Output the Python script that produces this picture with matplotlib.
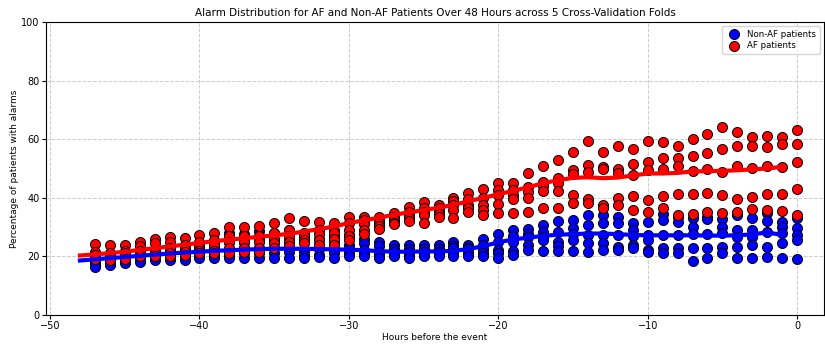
import numpy as np
import matplotlib
matplotlib.use("Agg")
import matplotlib.pyplot as plt

hours = list(range(-47, 1))

# 5 folds per hour (values in %)
af_values = [
    [24.2, 21.5, 20.5, 19.5, 19.0],  # -47
    [24.0, 21.0, 20.0, 19.5, 18.8],
    [24.0, 22.0, 21.0, 20.0, 19.0],
    [25.0, 23.5, 22.0, 21.0, 20.0],
    [26.0, 24.5, 22.0, 21.0, 20.0],
    [26.5, 25.0, 23.0, 21.0, 20.0],  # -42
    [26.4, 24.0, 22.5, 21.5, 20.5],
    [27.3, 25.0, 23.0, 22.0, 21.0],
    [28.0, 25.5, 24.0, 22.0, 21.0],
    [30.0, 27.0, 25.0, 23.0, 21.0],
    [30.0, 27.0, 25.0, 23.0, 21.5],  # -37
    [30.5, 27.0, 25.0, 23.0, 21.5],
    [31.3, 28.0, 26.0, 24.5, 23.0],
    [33.0, 29.0, 27.0, 25.0, 23.5],
    [32.0, 28.0, 27.0, 25.5, 24.5],
    [31.8, 29.0, 27.5, 25.5, 24.0],  # -32
    [31.3, 29.0, 28.0, 26.0, 24.0],
    [33.5, 31.5, 29.0, 27.0, 25.5],
    [33.5, 32.5, 31.0, 29.0, 27.5],
    [33.5, 32.0, 31.3, 30.5, 29.5],
    [34.7, 33.5, 32.4, 31.5, 31.0],  # -27
    [37.0, 35.3, 34.0, 33.0, 32.0],
    [38.7, 36.4, 35.0, 34.0, 31.3],
    [37.5, 36.4, 35.2, 34.5, 33.5],
    [40.0, 39.0, 37.5, 36.0, 33.0],
    [41.5, 39.5, 37.5, 36.5, 35.2],  # -22
    [43.0, 40.0, 37.5, 36.0, 34.1],
    [45.0, 42.5, 40.9, 38.0, 34.7],
    [45.0, 42.6, 41.0, 39.5, 34.9],
    [48.3, 43.8, 42.0, 40.0, 35.2],
    [51.0, 45.5, 44.0, 42.4, 36.4],  # -17
    [52.9, 46.6, 45.0, 42.4, 36.4],
    [55.7, 49.5, 48.0, 41.0, 38.1],
    [59.5, 51.2, 48.7, 39.6, 38.1],
    [55.7, 50.6, 50.0, 37.5, 36.5],
    [57.8, 49.8, 48.5, 39.8, 37.5],  # -12
    [56.7, 51.4, 47.8, 40.6, 35.8],
    [59.5, 52.3, 49.5, 39.2, 35.3],
    [58.9, 53.7, 50.0, 40.6, 36.4],
    [57.8, 53.5, 51.0, 41.2, 34.1],
    [60.0, 54.4, 49.3, 41.3, 34.5],  # -7
    [61.8, 55.4, 50.0, 41.8, 35.0],
    [64.0, 56.7, 48.9, 41.0, 34.7],
    [62.6, 57.8, 51.0, 39.5, 35.0],
    [60.9, 57.8, 50.3, 40.4, 36.2],
    [61.2, 57.4, 51.0, 41.2, 36.0],  # -2
    [60.6, 58.2, 50.6, 41.3, 35.6],
    [63.1, 58.2, 52.3, 43.0, 34.1],  # 0
]

non_af_values = [
    [20.0, 19.0, 18.0, 17.5, 16.5],  # -47
    [20.5, 19.0, 18.5, 17.5, 17.0],
    [21.0, 20.0, 19.0, 18.5, 17.6],
    [22.0, 21.0, 20.0, 19.0, 18.2],
    [22.0, 21.0, 20.0, 19.5, 18.8],
    [23.0, 22.0, 21.0, 20.0, 18.8],  # -42
    [23.0, 22.0, 21.0, 20.0, 18.8],
    [24.0, 22.5, 21.0, 20.0, 19.3],
    [25.0, 23.0, 21.5, 20.5, 19.3],
    [28.0, 25.0, 22.5, 20.5, 19.3],
    [27.5, 25.0, 23.0, 21.0, 19.3],  # -37
    [28.5, 26.0, 23.0, 21.0, 19.3],
    [28.0, 25.5, 23.0, 21.0, 19.5],
    [29.0, 25.5, 23.0, 21.5, 19.3],
    [27.0, 25.0, 22.0, 20.5, 19.3],
    [26.0, 24.0, 22.5, 20.5, 19.8],  # -32
    [27.0, 25.0, 22.0, 21.0, 19.5],
    [27.3, 24.0, 22.5, 21.0, 20.0],
    [26.0, 24.5, 22.2, 21.0, 20.0],
    [25.0, 23.5, 21.6, 20.5, 19.4],
    [24.0, 22.5, 21.6, 20.5, 20.0],  # -27
    [24.0, 22.5, 21.5, 20.5, 19.3],
    [24.0, 22.5, 21.5, 20.5, 20.0],
    [24.0, 22.5, 21.6, 20.8, 20.0],
    [25.0, 23.5, 22.7, 21.0, 20.0],
    [24.0, 23.0, 22.4, 21.0, 20.0],  # -22
    [26.0, 24.0, 22.5, 21.0, 20.0],
    [27.8, 25.0, 22.2, 21.0, 19.3],
    [29.0, 27.0, 25.0, 22.0, 20.4],
    [29.5, 27.5, 26.7, 24.0, 22.2],
    [30.7, 28.4, 26.7, 25.5, 21.8],  # -17
    [32.2, 28.4, 25.0, 23.5, 21.8],
    [32.4, 29.6, 27.5, 25.6, 21.8],
    [34.1, 30.7, 27.3, 24.5, 21.4],
    [34.1, 31.3, 27.3, 24.5, 22.2],
    [33.6, 31.3, 27.3, 23.3, 22.2],  # -12
    [31.3, 29.0, 27.1, 24.0, 22.8],
    [31.8, 27.3, 25.6, 22.2, 21.6],
    [34.4, 32.5, 27.3, 23.0, 21.1],
    [33.5, 31.6, 27.3, 22.8, 21.1],
    [33.0, 30.0, 27.6, 22.8, 18.6],  # -7
    [33.5, 32.8, 27.6, 23.0, 19.3],
    [32.8, 30.0, 27.9, 23.3, 21.1],
    [34.1, 29.0, 26.7, 23.3, 19.3],
    [33.0, 29.0, 26.7, 23.9, 19.3],
    [34.7, 32.1, 28.4, 23.3, 19.9],  # -2
    [31.6, 30.0, 27.9, 24.5, 19.3],
    [33.0, 29.8, 27.3, 25.6, 19.1],  # 0
]

line_hours = list(range(-48, 0))
af_line = [20.3, 20.7, 21.1, 21.6, 22.2, 22.8, 23.4, 24.0, 24.6, 25.2,
           25.7, 26.2, 26.7, 27.2, 27.7, 28.5, 29.3, 30.2, 31.4, 32.3,
           33.2, 34.2, 35.0, 35.8, 36.6, 37.6, 38.8, 40.0, 41.2, 42.4,
           43.6, 45.0, 46.0, 46.8, 47.0, 46.7, 46.9, 47.6, 48.3, 48.3,
           48.5, 49.0, 49.1, 49.2, 49.4, 49.7, 50.0, 50.6]
non_af_line = [18.6, 19.0, 19.4, 19.8, 20.2, 20.6, 21.0, 21.3, 21.6, 21.9,
               22.1, 22.3, 22.5, 22.6, 22.6, 22.6, 22.5, 22.4, 22.3, 22.1,
               21.8, 21.6, 21.6, 21.7, 21.7, 21.9, 22.5, 23.5, 24.8, 25.8,
               26.4, 27.0, 27.4, 27.6, 27.8, 27.8, 27.6, 27.3, 27.2, 27.2,
               27.2, 27.2, 27.1, 27.1, 27.2, 27.5, 28.2, 27.3]

af = np.array(af_values)
naf = np.array(non_af_values)

fig = plt.figure(figsize=(8.25, 3.46), dpi=100)
ax = fig.add_axes([0.0558, 0.0896, 0.943, 0.8468])

for f in range(5):
    ax.scatter(hours, naf[:, f], s=52, c='blue', edgecolors='black', linewidths=0.7,
               label='Non-AF patients' if f == 0 else None, zorder=2)
    ax.scatter(hours, af[:, f], s=52, c='red', edgecolors='black', linewidths=0.7,
               label='AF patients' if f == 0 else None, zorder=2)

ax.plot(line_hours, non_af_line, color='blue', lw=3, zorder=3)
ax.plot(line_hours, af_line, color='red', lw=3, zorder=3)

ax.set_xlim(-50.27, 1.8)
ax.set_ylim(0, 100)
ax.set_xticks([-50, -40, -30, -20, -10, 0])
ax.set_yticks([0, 20, 40, 60, 80, 100])
ax.tick_params(labelsize=7, length=3, pad=1.5)
ax.grid(True, linestyle='--', color='#cccccc', linewidth=0.7)
ax.set_axisbelow(True)
ax.set_title('Alarm Distribution for AF and Non-AF Patients Over 48 Hours across 5 Cross-Validation Folds',
             fontsize=7.5, pad=4)
ax.set_xlabel('Hours before the event', fontsize=6.5, labelpad=1.5)
ax.set_ylabel('Percentage of patients with alarms', fontsize=6.5, labelpad=2)
ax.legend(loc='upper right', fontsize=6.2, handletextpad=0.5, borderpad=0.4,
          labelspacing=0.3, markerscale=1.0)

fig.savefig('out.png', dpi=100)
